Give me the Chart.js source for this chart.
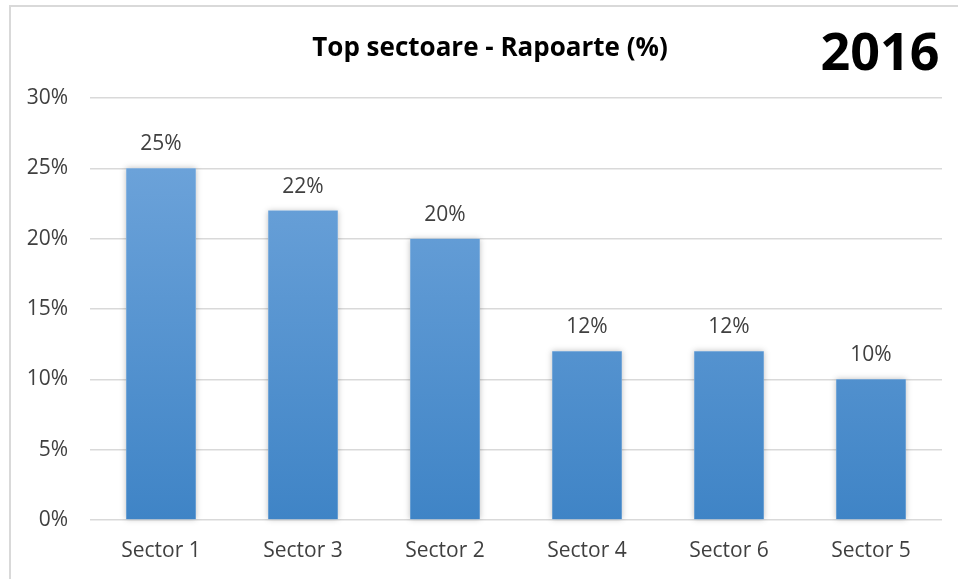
<!DOCTYPE html>
<html>
<head>
<meta charset="utf-8">
<script src="https://cdn.jsdelivr.net/npm/chart.js@4"></script>
<style>
  html, body { margin: 0; padding: 0; background: #fff; }
  #wrap { width: 958px; height: 579px; position: relative; }
</style>
</head>
<body>
<div id="wrap"><canvas id="chart"></canvas></div>
<script>
// --- Data ---
const categories = ['Sector 1', 'Sector 3', 'Sector 2', 'Sector 4', 'Sector 6', 'Sector 5'];
const shares = [25, 22, 20, 12, 12, 10];
const yTicks = [0, 5, 10, 15, 20, 25, 30];
const chartTitle = 'Top sectoare - Rapoarte (%)';
const yearLabel = '2016';

const FONT = "'Open Sans', 'Noto Sans', sans-serif";

// --- Gradient fill for bars ---
const barGradient = (context) => {
    const area = context.chart.chartArea;
    if (!area) return '#5b9bd5';
    const g = context.chart.ctx.createLinearGradient(0, area.top, 0, area.bottom);
    g.addColorStop(0, '#74a8dd');
    g.addColorStop(1, '#3f84c6');
    return g;
};

// --- Frame, titles and value labels ---
const decorations = {
    id: 'decorations',
    beforeDraw(chart) {
        const ctx = chart.ctx;
        ctx.save();
        ctx.strokeStyle = '#d9d9d9';
        ctx.lineWidth = 2;
        ctx.beginPath();
        ctx.moveTo(10, 579);
        ctx.lineTo(10, 6);
        ctx.lineTo(958, 6);
        ctx.stroke();
        ctx.restore();
    },
    beforeDatasetsDraw(chart) {
        const ctx = chart.ctx;
        ctx.save();
        ctx.shadowColor = 'rgba(0,0,0,0.25)';
        ctx.shadowBlur = 6;
        ctx.fillStyle = '#fff';
        chart.getDatasetMeta(0).data.forEach(bar => {
            ctx.fillRect(bar.x - bar.width / 2, bar.y, bar.width, bar.base - bar.y);
        });
        ctx.restore();
    },
    afterDraw(chart) {
        const ctx = chart.ctx;
        ctx.save();
        ctx.fillStyle = '#000';
        ctx.textAlign = 'center';
        ctx.textBaseline = 'alphabetic';
        ctx.font = `bold 26px ${FONT}`;
        ctx.fillText(chartTitle, 490, 56);
        ctx.font = `bold 52px ${FONT}`;
        ctx.fillText(yearLabel, 880, 70);

        ctx.fillStyle = '#404040';
        ctx.font = `21px ${FONT}`;
        chart.getDatasetMeta(0).data.forEach((bar, i) => {
            ctx.fillText(shares[i] + '%', bar.x, bar.y - 18);
        });
        ctx.restore();
    }
};

const ctx = document.getElementById('chart').getContext('2d');
new Chart(ctx, {
    type: 'bar',
    data: {
        labels: categories,
        datasets: [{
            data: shares,
            backgroundColor: barGradient,
            borderWidth: 0,
            categoryPercentage: 1,
            barPercentage: 0.49
        }]
    },
    options: {
        responsive: true,
        maintainAspectRatio: false,
        animation: false,
        layout: { padding: { top: 98, left: 22, right: 16, bottom: 19 } },
        plugins: {
            legend: { display: false },
            tooltip: { enabled: false }
        },
        scales: {
            x: {
                grid: { display: false, drawTicks: false },
                border: { display: false },
                ticks: { color: '#404040', padding: 18, font: { family: FONT, size: 21 } },
                afterFit: (scale) => { scale.height = 40; }
            },
            y: {
                min: yTicks[0],
                max: yTicks[yTicks.length - 1],
                afterBuildTicks: (scale) => { scale.ticks = yTicks.map(v => ({ value: v })); },
                grid: { color: '#d9d9d9', lineWidth: 1.5, drawTicks: false },
                border: { display: false },
                ticks: {
                    color: '#404040',
                    padding: 22,
                    font: { family: FONT, size: 21 },
                    callback: (v) => v + '%'
                },
                afterFit: (scale) => { scale.width = 68; }
            }
        }
    },
    plugins: [decorations]
});
</script>
</body>
</html>
